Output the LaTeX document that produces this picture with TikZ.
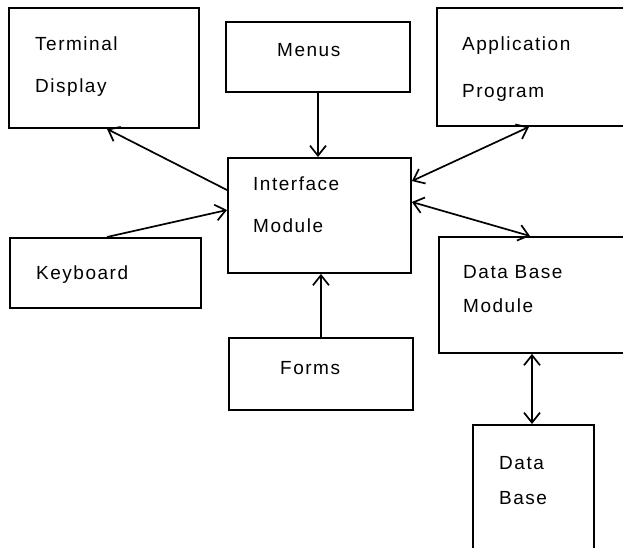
\documentclass[tikz,border=0pt]{standalone}
\usepackage{fontspec}
\setmainfont{Liberation Sans}[LetterSpace=8]
\usetikzlibrary{arrows.meta,calc}

\begin{document}
\begin{tikzpicture}[x=1pt,y=-1pt,
  box/.style={draw,line width=1.9pt,rectangle,inner sep=0pt,anchor=north west},
  lbl/.style={anchor=base west,inner sep=0pt,font=\fontsize{19}{19}\selectfont},
  link/.style={line width=1.7pt},
  barb/.tip={Straight Barb[length=10pt,width=16pt]}]
\useasboundingbox (0,0) rectangle (623,547);
\clip (0,0) rectangle (623,547);

% boxes
\node[box,minimum width=190pt,minimum height=120pt] (term)  at (8,7) {};
\node[box,minimum width=184pt,minimum height=70pt]  (menus) at (225,21) {};
\node[box,minimum width=200pt,minimum height=118pt] (app)   at (436,7) {};
\node[box,minimum width=183pt,minimum height=115pt] (iface) at (227,157) {};
\node[box,minimum width=191pt,minimum height=70pt]  (kbd)   at (9,237) {};
\node[box,minimum width=200pt,minimum height=116pt] (dbm)   at (438,236) {};
\node[box,minimum width=184pt,minimum height=72pt]  (forms) at (228,337) {};
\node[box,minimum width=121pt,minimum height=140pt] (db)    at (472,424) {};

% labels
\node[lbl] (tTerm1) at (35,50) {Terminal};
\node[lbl] (tTerm2) at (35,92) {Display};
\node[lbl] (tMenus) at (277,56) {Menus};
\node[lbl] (tApp1)  at (462,50) {Application};
\node[lbl] (tApp2)  at (462,97) {Program};
\node[lbl] (tIf1)   at (253,190) {Interface};
\node[lbl] (tIf2)   at (253,232) {Module};
\node[lbl] (tKbd)   at (36,279) {Keyboard};
\node[lbl] (tDbm1)  at (463,278) {Data Base};
\node[lbl] (tDbm2)  at (463,312) {Module};
\node[lbl] (tForms) at (280,374) {Forms};
\node[lbl] (tDb1)   at (499,469) {Data};
\node[lbl] (tDb2)   at (499,504) {Base};

% connectors
\draw[link,-barb] ($(iface.north west)+(0,33)$) -- ($(term.south west)+(99,0)$);
\draw[link,-barb] ($(kbd.north west)+(98,0)$) -- ($(iface.north west)+(0,53)$);
\draw[link,-barb] (menus.south) -- (menus.south |- iface.north);
\draw[link,-barb] (forms.north) -- (forms.north |- iface.south);
\draw[link,barb-barb] ($(iface.north east)+(0,24)$) -- ($(app.south west)+(93,0)$);
\draw[link,barb-barb] ($(iface.north east)+(0,45)$) -- ($(dbm.north west)+(92,0)$);
\coordinate (dbmx) at ($(dbm.south west)+(94,0)$);
\draw[link,barb-barb] (dbmx) -- (dbmx |- db.north);
\end{tikzpicture}
\end{document}
